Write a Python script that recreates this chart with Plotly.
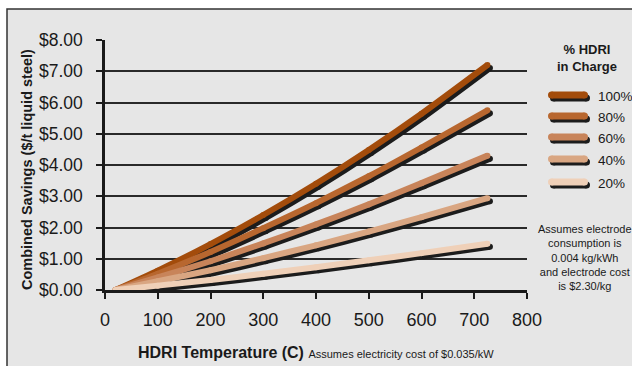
import plotly.graph_objects as go

# ---- data ----
temps = [20, 100, 200, 300, 400, 500, 600, 725]
series_names = ["100%", "80%", "60%", "40%", "20%"]
savings_100 = [0.00, 0.62, 1.47, 2.40, 3.40, 4.48, 5.64, 7.20]
savings_80 = [0.00, 0.52, 1.22, 1.98, 2.78, 3.64, 4.56, 5.75]
savings_60 = [0.00, 0.40, 0.92, 1.49, 2.10, 2.74, 3.42, 4.30]
savings_40 = [0.00, 0.28, 0.63, 1.02, 1.43, 1.87, 2.33, 2.94]
savings_20 = [0.00, 0.14, 0.32, 0.52, 0.73, 0.95, 1.18, 1.48]
all_series = [savings_100, savings_80, savings_60, savings_40, savings_20]
colors = ["#a34c0b", "#b8672f", "#c8845a", "#d9a682", "#efd0b8"]
x_ticks = [0, 100, 200, 300, 400, 500, 600, 700, 800]
y_ticks = [0, 1, 2, 3, 4, 5, 6, 7, 8]

FONT = "Liberation Sans Narrow, Arial Narrow, Liberation Sans, Arial, sans-serif"
SHADOW = "#1c1c1c"
TXT = "#1a1a1a"

# plot area geometry (pixels)
L, R, T, B = 105, 527, 40, 290
W, H = 632, 366
PW, PH = R - L, B - T
XMAX, YMAX = 800, 8
# shadow offset in pixels -> data units
sdx = 2.5 * XMAX / PW
sdy = 3.0 * YMAX / PH

def px(xp):
    return (xp - L) / PW

def py(yp):
    return (B - yp) / PH

fig = go.Figure()
for name, vals, col in zip(series_names, all_series, colors):
    fig.add_trace(go.Scatter(
        x=[t + sdx for t in temps], y=[v - sdy for v in vals],
        mode="lines+markers", line=dict(color=SHADOW, width=6, shape="spline", smoothing=0.6),
        marker=dict(color=SHADOW, size=6), cliponaxis=False,
        showlegend=False, hoverinfo="skip"))
    fig.add_trace(go.Scatter(
        x=temps, y=vals, name=name,
        mode="lines+markers", line=dict(color=col, width=6, shape="spline", smoothing=0.6),
        marker=dict(color=col, size=6), cliponaxis=False,
        showlegend=False))

shapes = []
# gray panel
shapes.append(dict(type="rect", xref="paper", yref="paper",
                   x0=px(7), x1=px(W + 40), y0=py(H + 40), y1=py(9),
                   fillcolor="#e6e6e6", line=dict(color="#333333", width=1.5), layer="below"))

annotations = []
# legend
legend_y = [95, 116, 137, 159, 182]
for name, col, yc in zip(series_names, colors, legend_y):
    for color, ox, oy in [(SHADOW, 2, -3), (col, 0, 0)]:
        common = dict(xref="paper", yref="paper", xsizemode="pixel", ysizemode="pixel",
                      xanchor=px(568), yanchor=py(yc), fillcolor=color, line=dict(width=0))
        shapes.append(dict(type="rect", x0=-16.5 + ox, x1=16.5 + ox, y0=-3.5 + oy, y1=3.5 + oy, **common))
        shapes.append(dict(type="circle", x0=-20 + ox, x1=-13 + ox, y0=-3.5 + oy, y1=3.5 + oy, **common))
        shapes.append(dict(type="circle", x0=13 + ox, x1=20 + ox, y0=-3.5 + oy, y1=3.5 + oy, **common))
    annotations.append(dict(xref="paper", yref="paper", x=px(596), y=py(yc + 1),
                            xanchor="left", yanchor="middle", text=name, showarrow=False,
                            font=dict(family=FONT, size=13.5, color=TXT)))

annotations.append(dict(xref="paper", yref="paper", x=px(587), y=py(58),
                        xanchor="center", yanchor="middle", showarrow=False,
                        text="<b>% HDRI<br>in Charge</b>",
                        font=dict(family=FONT, size=13, color=TXT)))
annotations.append(dict(xref="paper", yref="paper", x=px(585), y=py(257),
                        xanchor="center", yanchor="middle", showarrow=False,
                        text="Assumes electrode<br>consumption is<br>0.004 kg/kWh<br>and electrode cost<br>is $2.30/kg",
                        font=dict(family=FONT, size=11, color=TXT)))
# axis titles
annotations.append(dict(xref="paper", yref="paper", x=px(27), y=py(170),
                        xanchor="center", yanchor="middle", showarrow=False, textangle=-90,
                        text="<b>Combined Savings ($/t liquid steel)</b>",
                        font=dict(family=FONT, size=14.5, color=TXT)))
annotations.append(dict(xref="paper", yref="paper", x=px(136), y=py(352),
                        xanchor="left", yanchor="middle", showarrow=False,
                        text="<b>HDRI Temperature (C)</b> <span style='font-size:11px'>Assumes electricity cost of $0.035/kW</span>",
                        font=dict(family=FONT, size=16, color=TXT)))

fig.update_layout(
    width=W, height=H,
    margin=dict(l=L, r=W - R, t=T, b=H - B, pad=0),
    paper_bgcolor="white", plot_bgcolor="white",
    showlegend=False,
    shapes=shapes, annotations=annotations,
    font=dict(family=FONT, color=TXT),
)
fig.update_xaxes(range=[0, XMAX], tickvals=x_ticks, ticks="outside", ticklen=6, tickwidth=1.5,
                 tickcolor=TXT, showline=True, linecolor=TXT, linewidth=2.5,
                 showgrid=False, zeroline=False, tickfont=dict(family=FONT, size=18, color=TXT),
                 ticklabelstandoff=6)
fig.update_yaxes(range=[0, YMAX], tickvals=y_ticks, tickformat="$.2f", ticks="outside", ticklen=6,
                 tickwidth=1.5, tickcolor=TXT, showline=True, linecolor=TXT, linewidth=2.5,
                 showgrid=True, gridcolor="#2a2a2a", gridwidth=1.5, zeroline=False,
                 tickfont=dict(family=FONT, size=17.5, color=TXT), ticklabelstandoff=10)

fig.write_html("out.html")
